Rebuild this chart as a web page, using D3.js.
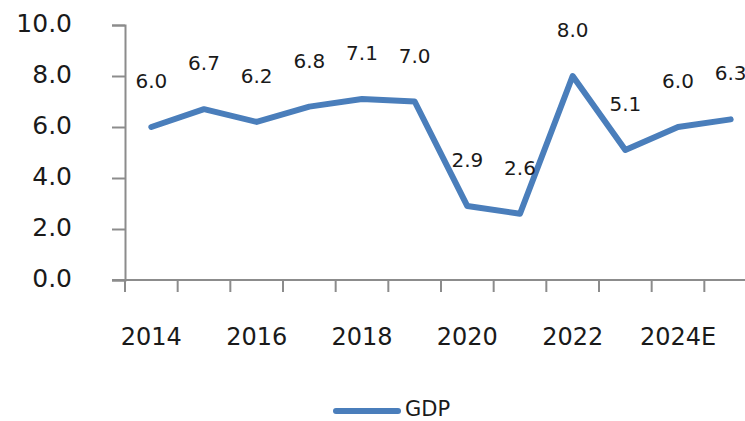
<html>
<head>
    <script src="https://d3js.org/d3.v7.min.js"></script>
    <style>
        body { margin: 0; background: #fff; }
        text { font-family: "DejaVu Sans", sans-serif; fill: #1a1a1a; }
    </style>
</head>
<body>
<script type="text/javascript">
    /////////////////settings for chart ////
    var svgWidth = 745;
    var svgHeight = 421;

    //////////////////data/////////////////////
    var years = ["2014", "2015", "2016", "2017", "2018", "2019", "2020", "2021", "2022", "2023", "2024E", "2025E"];
    var gdp = [6.0, 6.7, 6.2, 6.8, 7.1, 7.0, 2.9, 2.6, 8.0, 5.1, 6.0, 6.3];
    var yTicks = [0, 2, 4, 6, 8, 10];
    var seriesName = "GDP";

    var lineColor = "#4a7ebb";
    var axisColor = "#8c8c8c";

    var svg = d3.select("body")
        .append("svg")
        .attr("width", svgWidth)
        .attr("height", svgHeight);

    //scales
    var x = d3.scaleBand()
        .domain(years)
        .range([125, 757])
        .padding(0);
    var y = d3.scaleLinear()
        .domain([0, 10])
        .range([280, 25]);

    //y axis
    var yAxis = svg.append("g")
        .attr("transform", "translate(125,0)")
        .call(d3.axisLeft(y).tickValues(yTicks).tickSize(13).tickFormat(d3.format(".1f")));
    yAxis.select(".domain").attr("stroke", axisColor).attr("stroke-width", 2);
    yAxis.selectAll(".tick line").attr("stroke", axisColor).attr("stroke-width", 2);
    yAxis.selectAll(".tick text")
        .attr("x", -53)
        .attr("dy", "0.25em")
        .style("font-size", "25px")
        .style("fill", "#1a1a1a");

    //x axis, tick marks on category borders
    var xAxis = svg.append("g")
        .attr("transform", "translate(0,280)");
    xAxis.append("line")
        .attr("x1", 112)
        .attr("x2", x.range()[1])
        .attr("stroke", axisColor)
        .attr("stroke-width", 2);
    xAxis.selectAll(".xtick")
        .data(years)
        .enter()
        .append("line")
        .attr("class", "xtick")
        .attr("x1", d => x(d))
        .attr("x2", d => x(d))
        .attr("y1", 0)
        .attr("y2", 12)
        .attr("stroke", axisColor)
        .attr("stroke-width", 2);
    //only every other label is shown
    xAxis.selectAll(".xlabel")
        .data(years.filter((d, i) => i % 2 == 0))
        .enter()
        .append("text")
        .attr("class", "xlabel")
        .attr("x", d => x(d) + x.bandwidth() / 2)
        .attr("y", 65)
        .style("text-anchor", "middle")
        .style("font-size", "24px")
        .text(d => d);

    //the line
    var line = d3.line()
        .x((d, i) => x(years[i]) + x.bandwidth() / 2)
        .y(d => y(d));
    svg.append("path")
        .datum(gdp)
        .attr("d", line)
        .attr("fill", "none")
        .attr("stroke", lineColor)
        .attr("stroke-width", 6)
        .attr("stroke-linejoin", "round")
        .attr("stroke-linecap", "round");

    //data labels above points
    svg.selectAll(".label")
        .data(gdp)
        .enter()
        .append("text")
        .attr("class", "label")
        .attr("x", (d, i) => x(years[i]) + x.bandwidth() / 2)
        .attr("y", d => y(d) - 39)
        .style("text-anchor", "middle")
        .style("font-size", "20px")
        .text(d => d.toFixed(1));

    //legend
    var legend = svg.append("g")
        .attr("class", "legend");
    legend.append("line")
        .attr("x1", 336)
        .attr("x2", 398)
        .attr("y1", 411)
        .attr("y2", 411)
        .attr("stroke", lineColor)
        .attr("stroke-width", 6)
        .attr("stroke-linecap", "round");
    legend.append("text")
        .attr("x", 405)
        .attr("y", 416)
        .style("font-size", "21px")
        .text(seriesName);
</script>
</body>
</html>
